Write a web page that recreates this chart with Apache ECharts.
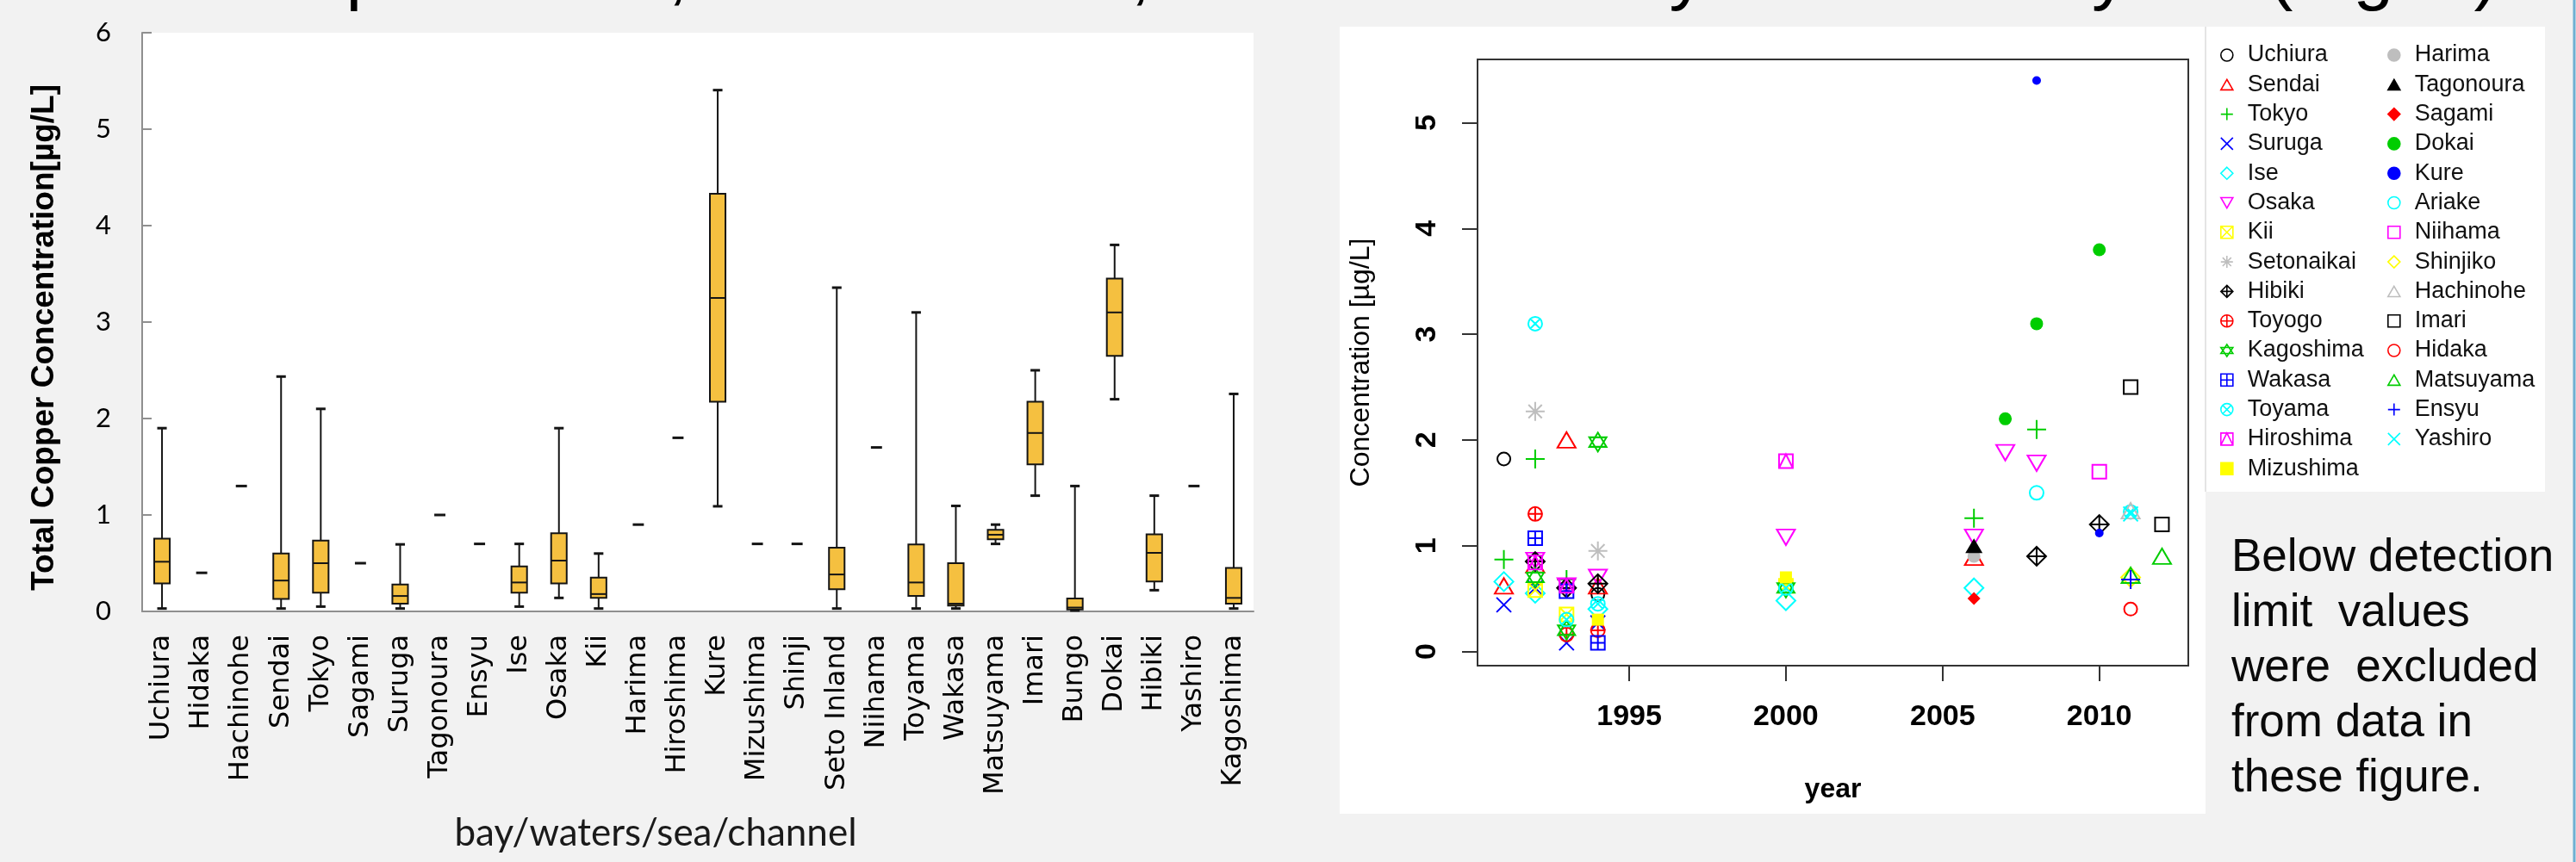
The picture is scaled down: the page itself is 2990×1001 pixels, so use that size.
<!DOCTYPE html>
<html><head><meta charset="utf-8">
<script src="https://cdn.jsdelivr.net/npm/echarts@6/dist/echarts.min.js"></script>
<style>html,body{margin:0;padding:0;background:#F2F2F2;}#c{width:2990px;height:1001px;}</style>
</head><body><div id="c"></div>
<script>
// ---------- Box plot data (left chart) ----------
const categories = ['Uchiura','Hidaka','Hachinohe','Sendai','Tokyo','Sagami','Suruga','Tagonoura','Ensyu','Ise','Osaka','Kii','Harima','Hiroshima','Kure','Mizushima','Shinji','Seto Inland','Niihama','Toyama','Wakasa','Matsuyama','Imari','Bungo','Dokai','Hibiki','Yashiro','Kagoshima'];
const boxLow  = [0.03,0.40,1.30,0.03,0.05,0.50,0.03,1.00,0.70,0.05,0.14,0.03,0.90,1.80,1.09,0.70,0.70,0.03,1.70,0.03,0.03,0.70,1.20,0.01,2.20,0.22,1.30,0.03];
const boxQ1   = [0.29,0.40,1.30,0.13,0.195,0.50,0.08,1.00,0.70,0.195,0.29,0.14,0.90,1.80,2.175,0.70,0.70,0.23,1.70,0.16,0.06,0.747,1.525,0.02,2.65,0.31,1.30,0.08];
const boxMed  = [0.515,0.40,1.30,0.32,0.50,0.50,0.16,1.00,0.70,0.30,0.527,0.18,0.90,1.80,3.25,0.70,0.70,0.383,1.70,0.30,0.08,0.795,1.85,0.04,3.10,0.607,1.30,0.14];
const boxQ3   = [0.755,0.40,1.30,0.60,0.735,0.50,0.28,1.00,0.70,0.467,0.81,0.35,0.90,1.80,4.33,0.70,0.70,0.66,1.70,0.695,0.50,0.846,2.175,0.135,3.45,0.80,1.30,0.45];
const boxHigh = [1.90,0.40,1.30,2.435,2.10,0.50,0.695,1.00,0.70,0.70,1.90,0.60,0.90,1.80,5.405,0.70,0.70,3.357,1.70,3.10,1.094,0.90,2.50,1.30,3.80,1.20,1.30,2.255];
const boxTicks = [0,1,2,3,4,5,6];

// ---------- Scatter data (right chart): [year, concentration] ----------
const yearTicks = [1995,2000,2005,2010];
const concTicks = [0,1,2,3,4,5];
const sUchiura   = [[1991,1.82],[1994,0.54]];
const sSendai    = [[1991,0.62],[1992,0.82],[1993,2.0],[1994,0.62],[2006,0.89]];
const sTokyo     = [[1991,0.87],[1992,1.82],[1993,0.68],[2006,1.26],[2008,2.1]];
const sSuruga    = [[1991,0.44],[1992,0.6],[1993,0.08],[1994,0.27]];
const sIse       = [[1991,0.66],[1992,0.55],[1994,0.4],[2000,0.48],[2006,0.6]];
const sOsaka     = [[1992,0.86],[1993,0.62],[1994,0.7],[2000,1.08],[2006,1.08],[2007,1.88],[2008,1.78]];
const sKii       = [[1992,0.58],[1993,0.35],[2000,0.62]];
const sSetonaikai= [[1992,2.27],[1994,0.95]];
const sHibiki    = [[1992,0.85],[1993,0.6],[1994,0.64],[2008,0.9],[2010,1.2]];
const sToyogo    = [[1992,1.3],[1993,0.16],[1994,0.2]];
const sKagoshima = [[1992,0.7],[1993,0.2],[1994,1.98],[2000,0.6]];
const sWakasa    = [[1992,1.07],[1993,0.57],[1994,0.08]];
const sToyama    = [[1992,3.1],[1993,0.3],[1994,0.45],[2000,0.6],[2011,1.32]];
const sHiroshima = [[1992,0.84],[1993,0.62],[2000,1.8]];
const sMizushima = [[1994,0.3],[2000,0.7]];
const sHarima    = [[2006,0.9]];
const sTagonoura = [[2006,1.0]];
const sSagami    = [[2006,0.5]];
const sDokai     = [[2007,2.2],[2008,3.1],[2010,3.8]];
const sKure      = [[2008,5.4],[2010,1.12]];
const sAriake    = [[2008,1.5]];
const sNiihama   = [[2010,1.7]];
const sShinjiko  = [[2011,0.7]];
const sHachinohe = [[2011,1.33]];
const sImari     = [[2011,2.5],[2012,1.2]];
const sHidaka    = [[2011,0.4]];
const sMatsuyama = [[2011,0.72],[2012,0.9]];
const sEnsyu     = [[2011,0.68]];
const sYashiro   = [[2011,1.3]];

const locations = [
  ['Uchiura',sUchiura],['Sendai',sSendai],['Tokyo',sTokyo],['Suruga',sSuruga],['Ise',sIse],
  ['Osaka',sOsaka],['Kii',sKii],['Setonaikai',sSetonaikai],['Hibiki',sHibiki],['Toyogo',sToyogo],
  ['Kagoshima',sKagoshima],['Wakasa',sWakasa],['Toyama',sToyama],['Hiroshima',sHiroshima],['Mizushima',sMizushima],
  ['Harima',sHarima],['Tagonoura',sTagonoura],['Sagami',sSagami],['Dokai',sDokai],['Kure',sKure],
  ['Ariake',sAriake],['Niihama',sNiihama],['Shinjiko',sShinjiko],['Hachinohe',sHachinohe],['Imari',sImari],
  ['Hidaka',sHidaka],['Matsuyama',sMatsuyama],['Ensyu',sEnsyu],['Yashiro',sYashiro]
];
const legendCol1 = locations.slice(0,15).map(l => l[0]);
const legendCol2 = locations.slice(15).map(l => l[0]);

const palette = ['#000000','#FF0000','#00CD00','#0000FF','#00FFFF','#FF00FF','#FFFF00','#BEBEBE'];
const P = {
  tri:   'path://M10,0L20,17.32L0,17.32Z',
  dtri:  'path://M0,0L20,0L10,17.32Z',
  plus:  'path://M0,10L20,10M10,0L10,20',
  cross: 'path://M0,0L20,20M20,0L0,20',
  sqx:   'path://M0,0L20,0L20,20L0,20ZM0,0L20,20M20,0L0,20',
  ast:   'path://M0,10L20,10M10,0L10,20M2.93,2.93L17.07,17.07M17.07,2.93L2.93,17.07',
  dplus: 'path://M10,0L20,10L10,20L0,10ZM0,10L20,10M10,0L10,20',
  cplus: 'path://M0,10A10,10,0,1,1,20,10A10,10,0,1,1,0,10ZM0,10L20,10M10,0L10,20',
  star:  'path://M10,0L20,15L0,15ZM0,5L20,5L10,20Z',
  sqplus:'path://M0,0L20,0L20,20L0,20ZM0,10L20,10M10,0L10,20',
  cx:    'path://M0,10A10,10,0,1,1,20,10A10,10,0,1,1,0,10ZM2.93,2.93L17.07,17.07M17.07,2.93L2.93,17.07',
  sqtri: 'path://M0,0L20,0L20,20L0,20ZM0,20L10,0L20,20',
  sq:    'path://M0,0L20,0L20,20L0,20Z',
  dia:   'path://M10,0L20,10L10,20L0,10Z'
};
function pchStyle(pch) {
  switch (pch) {
    case 0:  return {symbol:P.sq, size:16, filled:false};
    case 1:  return {symbol:'circle', size:15, filled:false};
    case 2:  return {symbol:P.tri, size:[21,18], filled:false};
    case 3:  return {symbol:P.plus, size:22, filled:false};
    case 4:  return {symbol:P.cross, size:17, filled:false};
    case 5:  return {symbol:P.dia, size:22, filled:false};
    case 6:  return {symbol:P.dtri, size:[21,18], filled:false};
    case 7:  return {symbol:P.sqx, size:16, filled:false};
    case 8:  return {symbol:P.ast, size:22, filled:false};
    case 9:  return {symbol:P.dplus, size:22, filled:false};
    case 10: return {symbol:P.cplus, size:16, filled:false};
    case 11: return {symbol:P.star, size:[20,22], filled:false};
    case 12: return {symbol:P.sqplus, size:16, filled:false};
    case 13: return {symbol:P.cx, size:16, filled:false};
    case 14: return {symbol:P.sqtri, size:16, filled:false};
    case 15: return {symbol:P.sq, size:14, filled:true};
    case 16: return {symbol:'circle', size:15, filled:true};
    case 17: return {symbol:P.tri, size:[20,17], filled:true};
    case 18: return {symbol:P.dia, size:15, filled:true};
    case 19: return {symbol:'circle', size:15, filled:true};
    case 20: return {symbol:'circle', size:10, filled:true};
    case 21: return {symbol:'circle', size:16, filled:false};
    case 22: return {symbol:P.sq, size:16, filled:false};
    case 23: return {symbol:P.dia, size:22, filled:false};
    default: return {symbol:P.tri, size:[21,18], filled:false};
  }
}

const scatterSeries = locations.map((loc, i) => {
  const pch = (i + 1) % 25;
  const col = palette[i % 8];
  const st = pchStyle(pch);
  return {
    type: 'scatter', name: loc[0], xAxisIndex: 1, yAxisIndex: 1, data: loc[1],
    symbol: st.symbol, symbolSize: st.size,
    itemStyle: {color: st.filled ? col : 'transparent', borderColor: col, borderWidth: st.filled ? 0 : 2, opacity: 1},
    emphasis: {disabled: true}, silent: true
  };
});

const boxRows = categories.map((c, i) => [i, boxLow[i], boxQ1[i], boxMed[i], boxQ3[i], boxHigh[i]]);

function renderBox(params, api) {
  const i = api.value(0);
  const v = [1,2,3,4,5].map(k => api.value(k));
  const band = api.size([1, 0])[0];
  const x = api.coord([i, v[2]])[0];
  const y = v.map(val => api.coord([i, val])[1]);
  const stroke = '#151515';
  if (v[0] === v[4]) {
    const h = band * 0.14;
    return {type: 'line', shape: {x1: x - h, y1: y[0], x2: x + h, y2: y[0]}, style: {stroke: stroke, lineWidth: 3}};
  }
  const bw = band * 0.196, cw = band * 0.12;
  return {type: 'group', children: [
    {type: 'line', shape: {x1: x, y1: y[4], x2: x, y2: y[3]}, style: {stroke: stroke, lineWidth: 2}},
    {type: 'line', shape: {x1: x, y1: y[1], x2: x, y2: y[0]}, style: {stroke: stroke, lineWidth: 2}},
    {type: 'line', shape: {x1: x - cw, y1: y[4], x2: x + cw, y2: y[4]}, style: {stroke: stroke, lineWidth: 3}},
    {type: 'line', shape: {x1: x - cw, y1: y[0], x2: x + cw, y2: y[0]}, style: {stroke: stroke, lineWidth: 3}},
    {type: 'rect', shape: {x: x - bw, y: y[3], width: 2 * bw, height: y[1] - y[3]}, style: {fill: '#F5C040', stroke: stroke, lineWidth: 2}},
    {type: 'line', shape: {x1: x - bw, y1: y[2], x2: x + bw, y2: y[2]}, style: {stroke: stroke, lineWidth: 2}}
  ]};
}

const chart = echarts.init(document.getElementById('c'), null, {renderer: 'canvas'});
const legendText = {fontFamily: 'Liberation Sans', fontSize: 27, color: '#111', lineHeight: 30, padding: [0, 0, 0, 12]};
chart.setOption({
  animation: false,
  backgroundColor: '#F2F2F2',
  textStyle: {fontFamily: 'Liberation Sans'},
  graphic: [
    {type: 'rect', z: -10, shape: {x: 1555, y: 31, width: 1005, height: 914}, style: {fill: '#FFFFFF'}},
    {type: 'rect', z: -10, shape: {x: 2560, y: 31, width: 394, height: 540}, style: {fill: '#FFFFFF'}},
    {type: 'line', z: -9, shape: {x1: 2560, y1: 31, x2: 2560, y2: 571}, style: {stroke: '#E4E4E4', lineWidth: 2}},
    {type: 'line', z: -9, shape: {x1: 2988, y1: 0, x2: 2988, y2: 1001}, style: {stroke: '#6FB0D2', lineWidth: 3}},
    {type: 'text', x: 126, y: -27, style: {text: 'be comparable or, in some sites, increased after year 2005 beyond (Fig. 2).', font: '84px "Liberation Sans"', fill: '#000', textAlign: 'left', textVerticalAlign: 'middle'}},
    {type: 'text', x: 52, y: 392, rotation: Math.PI / 2, style: {text: 'Total Copper Concentration[µg/L]', font: 'bold 37px "Liberation Sans"', fill: '#000', textAlign: 'center', textVerticalAlign: 'middle'}},
    {type: 'text', x: 761, y: 968, style: {text: 'bay/waters/sea/channel', font: '44px Lato', fill: '#1a1a1a', textAlign: 'center', textVerticalAlign: 'middle'}},
    {type: 'text', x: 2590, y: 616, style: {text: 'Below detection\nlimit  values\nwere  excluded\nfrom data in\nthese figure.', font: '53px "Liberation Sans"', lineHeight: 64, fill: '#0a0a0a', textAlign: 'left', textVerticalAlign: 'top'}}
  ],
  grid: [
    {left: 165, top: 38, width: 1290, height: 672, show: true, backgroundColor: '#FFFFFF', borderWidth: 0},
    {left: 1715, top: 69, width: 825, height: 704, show: true, backgroundColor: 'transparent', borderColor: '#333', borderWidth: 2}
  ],
  xAxis: [
    {type: 'category', gridIndex: 0, data: categories, boundaryGap: true,
     axisLine: {lineStyle: {color: '#8F8F8F', width: 2}},
     axisTick: {inside: true, length: 11, alignWithLabel: false, interval: 0, lineStyle: {color: '#8F8F8F', width: 2}},
     axisLabel: {interval: 0, rotate: 90, margin: 27, fontFamily: 'DejaVu Sans', fontSize: 32, color: '#000'},
     splitLine: {show: false}},
    {type: 'value', gridIndex: 1, min: 1990.16, max: 2012.84,
     name: 'year', nameLocation: 'middle', nameGap: 127, nameTextStyle: {fontFamily: 'Liberation Sans', fontSize: 32, fontWeight: 'bold', color: '#000', lineHeight: 34},
     axisLine: {show: true, onZero: false, lineStyle: {color: '#333', width: 2}},
     axisTick: {show: true, customValues: yearTicks, length: 18, lineStyle: {color: '#333', width: 2}},
     axisLabel: {customValues: yearTicks, formatter: v => String(Math.round(v)), margin: 42, fontFamily: 'Liberation Sans', fontSize: 34, fontWeight: 'bold', lineHeight: 36, color: '#000'},
     splitLine: {show: false}}
  ],
  yAxis: [
    {type: 'value', gridIndex: 0, min: 0, max: 6, interval: 1,
     axisLine: {show: true, lineStyle: {color: '#8F8F8F', width: 2}},
     axisTick: {show: true, inside: true, length: 11, lineStyle: {color: '#8F8F8F', width: 2}},
     axisLabel: {customValues: boxTicks, margin: 36, fontFamily: 'Lato', fontSize: 31, color: '#000'},
     splitLine: {show: false}},
    {type: 'value', gridIndex: 1, min: -0.135, max: 5.6,
     name: 'Concentration [µg/L]', nameLocation: 'middle', nameGap: 118, nameRotate: 90,
     nameTextStyle: {fontFamily: 'Liberation Sans', fontSize: 32, color: '#000', lineHeight: 34},
     axisLine: {show: true, onZero: false, lineStyle: {color: '#333', width: 2}},
     axisTick: {show: true, customValues: concTicks, length: 18, lineStyle: {color: '#333', width: 2}},
     axisLabel: {customValues: concTicks, formatter: v => String(Math.round(v)), rotate: 90, margin: 40, fontFamily: 'Liberation Sans', fontSize: 34, fontWeight: 'bold', lineHeight: 36, color: '#000'},
     splitLine: {show: false}}
  ],
  legend: [
    {orient: 'vertical', left: 2577, top: 49, padding: 0, itemWidth: 14, itemHeight: 14, itemGap: 4.3, selectedMode: false,
     data: legendCol1, textStyle: legendText, itemStyle: {borderWidth: 1.6}},
    {orient: 'vertical', left: 2771, top: 49, padding: 0, itemWidth: 14, itemHeight: 14, itemGap: 4.3, selectedMode: false,
     data: legendCol2, textStyle: legendText, itemStyle: {borderWidth: 1.6}}
  ],
  series: [
    {type: 'custom', name: 'box', xAxisIndex: 0, yAxisIndex: 0, renderItem: renderBox, data: boxRows,
     encode: {x: 0, y: [1, 2, 3, 4, 5]}, silent: true}
  ].concat(scatterSeries)
});
</script>
</body></html>
